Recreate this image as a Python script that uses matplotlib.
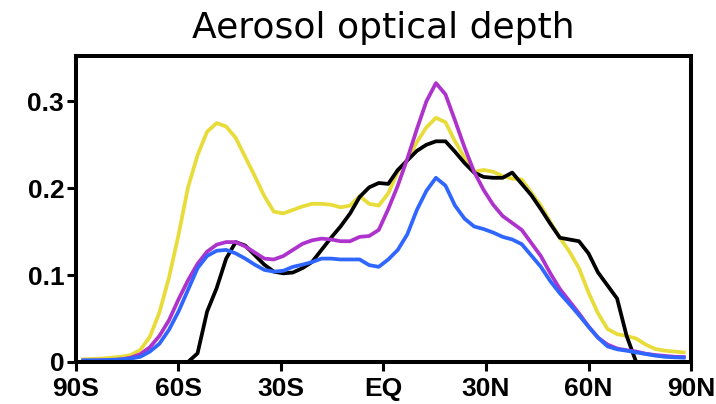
import numpy as np
import matplotlib
matplotlib.use("Agg")
import matplotlib.pyplot as plt

# T42 gaussian latitudes (northern half), mirrored for the south
lat_nh = [1.395, 4.186, 6.977, 9.767, 12.558, 15.348, 18.139, 20.930,
          23.720, 26.511, 29.301, 32.092, 34.883, 37.673, 40.464, 43.254,
          46.045, 48.835, 51.626, 54.416, 57.207, 59.997, 62.787, 65.578,
          68.368, 71.158, 73.948, 76.737, 79.526, 82.313, 85.097, 87.864]
lat = [-v for v in lat_nh[::-1]] + lat_nh

aod_yellow = [0.003, 0.0035, 0.004, 0.005, 0.006, 0.008, 0.014, 0.029,
              0.057, 0.097, 0.146, 0.201, 0.238, 0.265, 0.275, 0.271,
              0.258, 0.236, 0.214, 0.191, 0.173, 0.171, 0.175, 0.179,
              0.182, 0.182, 0.181, 0.178, 0.180, 0.191, 0.182, 0.180,
              0.194, 0.219, 0.233, 0.253, 0.270, 0.281, 0.276, 0.254,
              0.235, 0.219, 0.221, 0.219, 0.214, 0.211, 0.210, 0.195,
              0.180, 0.161, 0.143, 0.127, 0.108, 0.080, 0.056, 0.038,
              0.032, 0.030, 0.027, 0.020, 0.015, 0.013, 0.012, 0.011]

aod_black = [0, 0, 0, 0, 0, 0, 0, 0,
             0, 0, 0, 0, 0.010, 0.058, 0.085, 0.119,
             0.138, 0.134, 0.123, 0.112, 0.104, 0.102, 0.103, 0.108,
             0.115, 0.129, 0.143, 0.156, 0.171, 0.190, 0.201, 0.206,
             0.205, 0.221, 0.232, 0.243, 0.250, 0.254, 0.254, 0.242,
             0.229, 0.218, 0.213, 0.212, 0.212, 0.218, 0.205, 0.192,
             0.176, 0.159, 0.143, 0.141, 0.139, 0.125, 0.103, 0.088,
             0.073, 0.030, 0, 0, 0, 0, 0, 0]

aod_purple = [0.0015, 0.0015, 0.002, 0.002, 0.003, 0.005, 0.009, 0.017,
              0.030, 0.048, 0.072, 0.094, 0.113, 0.127, 0.135, 0.138,
              0.138, 0.133, 0.126, 0.119, 0.118, 0.122, 0.129, 0.136,
              0.140, 0.142, 0.141, 0.139, 0.139, 0.144, 0.145, 0.152,
              0.176, 0.203, 0.234, 0.268, 0.300, 0.321, 0.308, 0.278,
              0.247, 0.219, 0.198, 0.181, 0.168, 0.160, 0.152, 0.137,
              0.122, 0.102, 0.084, 0.070, 0.056, 0.041, 0.028, 0.020,
              0.0155, 0.0135, 0.012, 0.0095, 0.008, 0.007, 0.006, 0.0057]

aod_blue = [0.002, 0.002, 0.002, 0.0025, 0.003, 0.004, 0.006, 0.012,
            0.021, 0.037, 0.058, 0.083, 0.108, 0.122, 0.128, 0.129,
            0.125, 0.119, 0.112, 0.106, 0.104, 0.105, 0.1095, 0.112,
            0.115, 0.119, 0.119, 0.118, 0.118, 0.118, 0.1115, 0.1095,
            0.118, 0.129, 0.147, 0.175, 0.197, 0.212, 0.203, 0.180,
            0.165, 0.156, 0.153, 0.149, 0.144, 0.141, 0.1356, 0.1226,
            0.1096, 0.093, 0.079, 0.0667, 0.054, 0.0406, 0.028, 0.018,
            0.0146, 0.013, 0.011, 0.0092, 0.0073, 0.006, 0.0054, 0.005]

xticks = [-90, -60, -30, 0, 30, 60, 90]
xlabels = ["90S", "60S", "30S", "EQ", "30N", "60N", "90N"]
yticks = [0, 0.1, 0.2, 0.3]
ylabels = ["0", "0.1", "0.2", "0.3"]

plt.rcParams['font.family'] = 'DejaVu Sans'

fig = plt.figure(figsize=(7.16, 4.04), dpi=100)
ax = fig.add_axes([0.1061, 0.104, 0.8590, 0.757])

lw = 2.7
ax.plot(lat, aod_yellow, color="#e8dc3a", lw=lw)
ax.plot(lat, aod_black, color="black", lw=lw)
ax.plot(lat, aod_purple, color="#ad33cc", lw=lw)
ax.plot(lat, aod_blue, color="#2f66ff", lw=lw)

ax.set_xlim(-90, 90)
ax.set_ylim(0, 0.352)
ax.set_xticks(xticks)
ax.set_xticklabels(xlabels)
ax.set_yticks(yticks)
ax.set_yticklabels(ylabels)
ax.tick_params(direction="out", length=6.5, width=2.2)
ax.tick_params(axis="x", pad=4.5)
ax.tick_params(axis="y", pad=2)
for lab in ax.get_xticklabels() + ax.get_yticklabels():
    lab.set_family("Liberation Sans")
    lab.set_fontweight("bold")
    lab.set_fontsize(19)
for sp in ax.spines.values():
    sp.set_linewidth(2.9)

ax.set_title("Aerosol optical depth", fontsize=26, pad=13)

fig.savefig("out.png", dpi=100)
